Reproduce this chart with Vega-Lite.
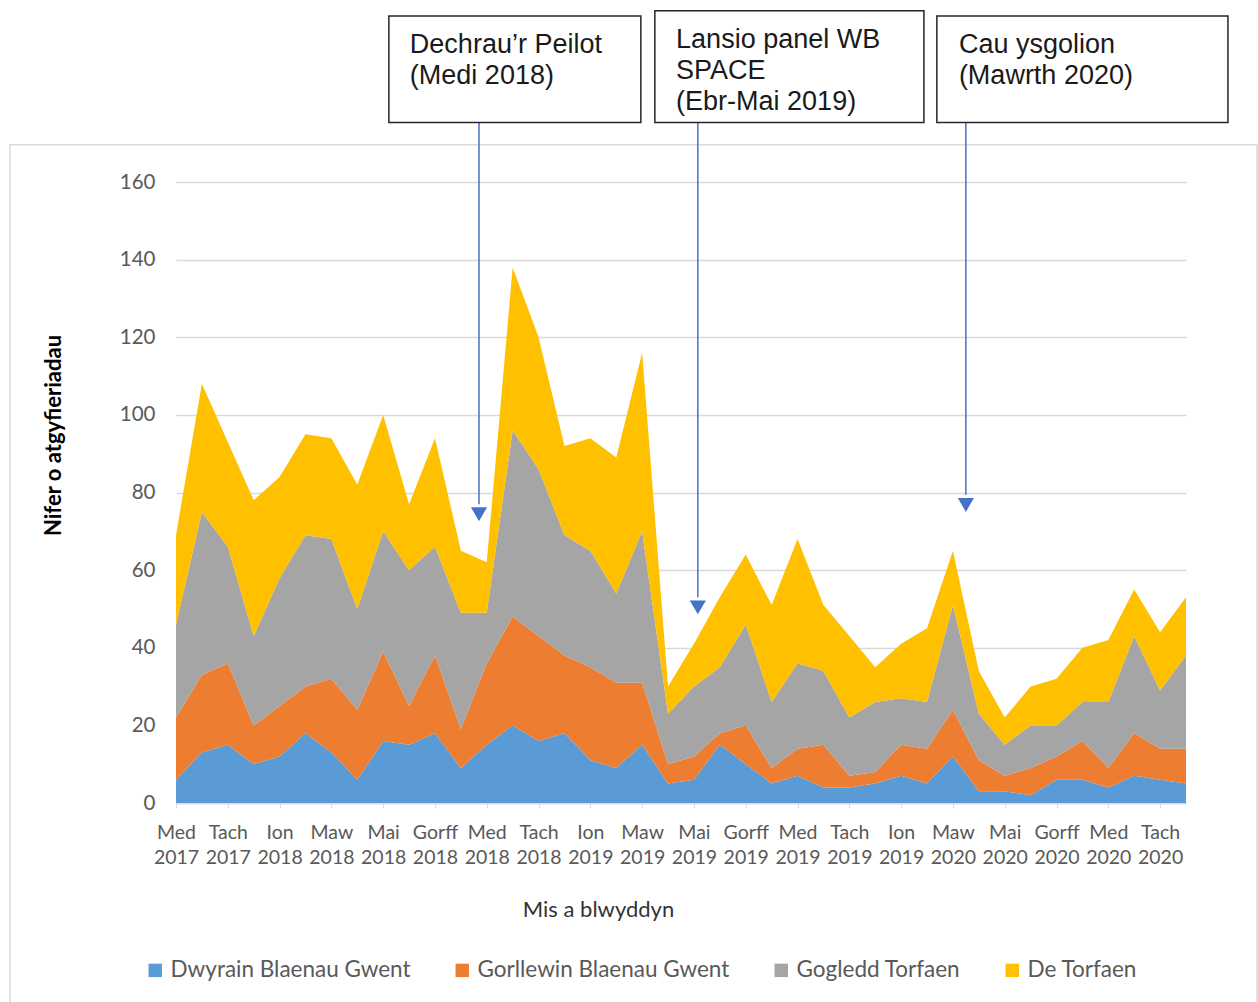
{
  "$schema": "https://vega.github.io/schema/vega-lite/v6.json",
  "width": 1010,
  "height": 621,
  "autosize": {"type": "none"},
  "padding": {"left": 176, "top": 182, "right": 72, "bottom": 199},
  "background": "white",
  "config": {"view": {"stroke": null}, "font": "Lato", "axis": {"labelFont": "Lato", "titleFont": "Lato"}, "legend": {"labelFont": "Lato"}},
  "datasets": {
    "refs": [
      {"i":0,"s":"Dwyrain Blaenau Gwent","v":6},{"i":0,"s":"Gorllewin Blaenau Gwent","v":16},{"i":0,"s":"Gogledd Torfaen","v":24},{"i":0,"s":"De Torfaen","v":23},
      {"i":1,"s":"Dwyrain Blaenau Gwent","v":13},{"i":1,"s":"Gorllewin Blaenau Gwent","v":20},{"i":1,"s":"Gogledd Torfaen","v":42},{"i":1,"s":"De Torfaen","v":33},
      {"i":2,"s":"Dwyrain Blaenau Gwent","v":15},{"i":2,"s":"Gorllewin Blaenau Gwent","v":21},{"i":2,"s":"Gogledd Torfaen","v":30},{"i":2,"s":"De Torfaen","v":27},
      {"i":3,"s":"Dwyrain Blaenau Gwent","v":10},{"i":3,"s":"Gorllewin Blaenau Gwent","v":10},{"i":3,"s":"Gogledd Torfaen","v":23},{"i":3,"s":"De Torfaen","v":35},
      {"i":4,"s":"Dwyrain Blaenau Gwent","v":12},{"i":4,"s":"Gorllewin Blaenau Gwent","v":13},{"i":4,"s":"Gogledd Torfaen","v":33},{"i":4,"s":"De Torfaen","v":26},
      {"i":5,"s":"Dwyrain Blaenau Gwent","v":18},{"i":5,"s":"Gorllewin Blaenau Gwent","v":12},{"i":5,"s":"Gogledd Torfaen","v":39},{"i":5,"s":"De Torfaen","v":26},
      {"i":6,"s":"Dwyrain Blaenau Gwent","v":13},{"i":6,"s":"Gorllewin Blaenau Gwent","v":19},{"i":6,"s":"Gogledd Torfaen","v":36},{"i":6,"s":"De Torfaen","v":26},
      {"i":7,"s":"Dwyrain Blaenau Gwent","v":6},{"i":7,"s":"Gorllewin Blaenau Gwent","v":18},{"i":7,"s":"Gogledd Torfaen","v":26},{"i":7,"s":"De Torfaen","v":32},
      {"i":8,"s":"Dwyrain Blaenau Gwent","v":16},{"i":8,"s":"Gorllewin Blaenau Gwent","v":23},{"i":8,"s":"Gogledd Torfaen","v":31},{"i":8,"s":"De Torfaen","v":30},
      {"i":9,"s":"Dwyrain Blaenau Gwent","v":15},{"i":9,"s":"Gorllewin Blaenau Gwent","v":10},{"i":9,"s":"Gogledd Torfaen","v":35},{"i":9,"s":"De Torfaen","v":17},
      {"i":10,"s":"Dwyrain Blaenau Gwent","v":18},{"i":10,"s":"Gorllewin Blaenau Gwent","v":20},{"i":10,"s":"Gogledd Torfaen","v":28},{"i":10,"s":"De Torfaen","v":28},
      {"i":11,"s":"Dwyrain Blaenau Gwent","v":9},{"i":11,"s":"Gorllewin Blaenau Gwent","v":10},{"i":11,"s":"Gogledd Torfaen","v":30},{"i":11,"s":"De Torfaen","v":16},
      {"i":12,"s":"Dwyrain Blaenau Gwent","v":15},{"i":12,"s":"Gorllewin Blaenau Gwent","v":21},{"i":12,"s":"Gogledd Torfaen","v":13},{"i":12,"s":"De Torfaen","v":13},
      {"i":13,"s":"Dwyrain Blaenau Gwent","v":20},{"i":13,"s":"Gorllewin Blaenau Gwent","v":28},{"i":13,"s":"Gogledd Torfaen","v":48},{"i":13,"s":"De Torfaen","v":42},
      {"i":14,"s":"Dwyrain Blaenau Gwent","v":16},{"i":14,"s":"Gorllewin Blaenau Gwent","v":27},{"i":14,"s":"Gogledd Torfaen","v":43},{"i":14,"s":"De Torfaen","v":34},
      {"i":15,"s":"Dwyrain Blaenau Gwent","v":18},{"i":15,"s":"Gorllewin Blaenau Gwent","v":20},{"i":15,"s":"Gogledd Torfaen","v":31},{"i":15,"s":"De Torfaen","v":23},
      {"i":16,"s":"Dwyrain Blaenau Gwent","v":11},{"i":16,"s":"Gorllewin Blaenau Gwent","v":24},{"i":16,"s":"Gogledd Torfaen","v":30},{"i":16,"s":"De Torfaen","v":29},
      {"i":17,"s":"Dwyrain Blaenau Gwent","v":9},{"i":17,"s":"Gorllewin Blaenau Gwent","v":22},{"i":17,"s":"Gogledd Torfaen","v":23},{"i":17,"s":"De Torfaen","v":35},
      {"i":18,"s":"Dwyrain Blaenau Gwent","v":15},{"i":18,"s":"Gorllewin Blaenau Gwent","v":16},{"i":18,"s":"Gogledd Torfaen","v":39},{"i":18,"s":"De Torfaen","v":46},
      {"i":19,"s":"Dwyrain Blaenau Gwent","v":5},{"i":19,"s":"Gorllewin Blaenau Gwent","v":5},{"i":19,"s":"Gogledd Torfaen","v":13},{"i":19,"s":"De Torfaen","v":7},
      {"i":20,"s":"Dwyrain Blaenau Gwent","v":6},{"i":20,"s":"Gorllewin Blaenau Gwent","v":6},{"i":20,"s":"Gogledd Torfaen","v":18},{"i":20,"s":"De Torfaen","v":11},
      {"i":21,"s":"Dwyrain Blaenau Gwent","v":15},{"i":21,"s":"Gorllewin Blaenau Gwent","v":3},{"i":21,"s":"Gogledd Torfaen","v":17},{"i":21,"s":"De Torfaen","v":18},
      {"i":22,"s":"Dwyrain Blaenau Gwent","v":10},{"i":22,"s":"Gorllewin Blaenau Gwent","v":10},{"i":22,"s":"Gogledd Torfaen","v":26},{"i":22,"s":"De Torfaen","v":18},
      {"i":23,"s":"Dwyrain Blaenau Gwent","v":5},{"i":23,"s":"Gorllewin Blaenau Gwent","v":4},{"i":23,"s":"Gogledd Torfaen","v":17},{"i":23,"s":"De Torfaen","v":25},
      {"i":24,"s":"Dwyrain Blaenau Gwent","v":7},{"i":24,"s":"Gorllewin Blaenau Gwent","v":7},{"i":24,"s":"Gogledd Torfaen","v":22},{"i":24,"s":"De Torfaen","v":32},
      {"i":25,"s":"Dwyrain Blaenau Gwent","v":4},{"i":25,"s":"Gorllewin Blaenau Gwent","v":11},{"i":25,"s":"Gogledd Torfaen","v":19},{"i":25,"s":"De Torfaen","v":17},
      {"i":26,"s":"Dwyrain Blaenau Gwent","v":4},{"i":26,"s":"Gorllewin Blaenau Gwent","v":3},{"i":26,"s":"Gogledd Torfaen","v":15},{"i":26,"s":"De Torfaen","v":21},
      {"i":27,"s":"Dwyrain Blaenau Gwent","v":5},{"i":27,"s":"Gorllewin Blaenau Gwent","v":3},{"i":27,"s":"Gogledd Torfaen","v":18},{"i":27,"s":"De Torfaen","v":9},
      {"i":28,"s":"Dwyrain Blaenau Gwent","v":7},{"i":28,"s":"Gorllewin Blaenau Gwent","v":8},{"i":28,"s":"Gogledd Torfaen","v":12},{"i":28,"s":"De Torfaen","v":14},
      {"i":29,"s":"Dwyrain Blaenau Gwent","v":5},{"i":29,"s":"Gorllewin Blaenau Gwent","v":9},{"i":29,"s":"Gogledd Torfaen","v":12},{"i":29,"s":"De Torfaen","v":19},
      {"i":30,"s":"Dwyrain Blaenau Gwent","v":12},{"i":30,"s":"Gorllewin Blaenau Gwent","v":12},{"i":30,"s":"Gogledd Torfaen","v":27},{"i":30,"s":"De Torfaen","v":14},
      {"i":31,"s":"Dwyrain Blaenau Gwent","v":3},{"i":31,"s":"Gorllewin Blaenau Gwent","v":8},{"i":31,"s":"Gogledd Torfaen","v":12},{"i":31,"s":"De Torfaen","v":11},
      {"i":32,"s":"Dwyrain Blaenau Gwent","v":3},{"i":32,"s":"Gorllewin Blaenau Gwent","v":4},{"i":32,"s":"Gogledd Torfaen","v":8},{"i":32,"s":"De Torfaen","v":7},
      {"i":33,"s":"Dwyrain Blaenau Gwent","v":2},{"i":33,"s":"Gorllewin Blaenau Gwent","v":7},{"i":33,"s":"Gogledd Torfaen","v":11},{"i":33,"s":"De Torfaen","v":10},
      {"i":34,"s":"Dwyrain Blaenau Gwent","v":6},{"i":34,"s":"Gorllewin Blaenau Gwent","v":6},{"i":34,"s":"Gogledd Torfaen","v":8},{"i":34,"s":"De Torfaen","v":12},
      {"i":35,"s":"Dwyrain Blaenau Gwent","v":6},{"i":35,"s":"Gorllewin Blaenau Gwent","v":10},{"i":35,"s":"Gogledd Torfaen","v":10},{"i":35,"s":"De Torfaen","v":14},
      {"i":36,"s":"Dwyrain Blaenau Gwent","v":4},{"i":36,"s":"Gorllewin Blaenau Gwent","v":5},{"i":36,"s":"Gogledd Torfaen","v":17},{"i":36,"s":"De Torfaen","v":16},
      {"i":37,"s":"Dwyrain Blaenau Gwent","v":7},{"i":37,"s":"Gorllewin Blaenau Gwent","v":11},{"i":37,"s":"Gogledd Torfaen","v":25},{"i":37,"s":"De Torfaen","v":12},
      {"i":38,"s":"Dwyrain Blaenau Gwent","v":6},{"i":38,"s":"Gorllewin Blaenau Gwent","v":8},{"i":38,"s":"Gogledd Torfaen","v":15},{"i":38,"s":"De Torfaen","v":15},
      {"i":39,"s":"Dwyrain Blaenau Gwent","v":5},{"i":39,"s":"Gorllewin Blaenau Gwent","v":9},{"i":39,"s":"Gogledd Torfaen","v":24},{"i":39,"s":"De Torfaen","v":15}
    ],
    "frame": [{"x1": -6.41, "x2": 41.74, "y1": 169.6, "y2": -53.4}],
    "arrows": [
      {"ax": 11.7, "top": 175.3, "bot": 77.0, "tip": 74.4},
      {"ax": 20.15, "top": 175.3, "bot": 53.0, "tip": 50.4},
      {"ax": 30.5, "top": 175.3, "bot": 79.4, "tip": 76.8}
    ],
    "boxes": [
      {"x1": 8.22, "x2": 17.95, "y1": 175.3, "y2": 202.8, "t": "Dechrau’r Peilot\n(Medi 2018)", "tx": 9.03, "ty": 193.3},
      {"x1": 18.49, "x2": 28.88, "y1": 175.3, "y2": 204.1, "t": "Lansio panel WB\nSPACE\n(Ebr-Mai 2019)", "tx": 19.31, "ty": 194.6},
      {"x1": 29.38, "x2": 40.62, "y1": 175.3, "y2": 202.8, "t": "Cau ysgolion\n(Mawrth 2020)", "tx": 30.23, "ty": 193.3}
    ]
  },
  "layer": [
    {
      "data": {"name": "frame"},
      "mark": {"type": "rect", "filled": false, "stroke": "#d9d9d9", "strokeWidth": 1.5},
      "encoding": {
        "x": {"field": "x1", "type": "quantitative", "scale": {"domain": [0, 39], "nice": false, "zero": false}},
        "x2": {"field": "x2"},
        "y": {"field": "y1", "type": "quantitative", "scale": {"domain": [0, 160], "nice": false}},
        "y2": {"field": "y2"}
      }
    },
    {
      "data": {"name": "refs"},
      "transform": [{"calculate": "indexof(['Dwyrain Blaenau Gwent','Gorllewin Blaenau Gwent','Gogledd Torfaen','De Torfaen'], datum.s)", "as": "k"}],
      "mark": {"type": "area", "interpolate": "linear"},
      "encoding": {
        "x": {
          "field": "i", "type": "quantitative",
          "scale": {"domain": [0, 39], "nice": false, "zero": false},
          "axis": {
            "title": "Mis a blwyddyn",
            "values": [0,1,2,3,4,5,6,7,8,9,10,11,12,13,14,15,16,17,18,19,20,21,22,23,24,25,26,27,28,29,30,31,32,33,34,35,36,37,38,39],
            "labelExpr": "datum.value % 2 == 0 ? split(['Med 2017','Tach 2017','Ion 2018','Maw 2018','Mai 2018','Gorff 2018','Med 2018','Tach 2018','Ion 2019','Maw 2019','Mai 2019','Gorff 2019','Med 2019','Tach 2019','Ion 2019','Maw 2020','Mai 2020','Gorff 2020','Med 2020','Tach 2020'][datum.value / 2], ' ') : ''",
            "grid": false,
            "domainColor": "#d9d9d9", "domainWidth": 1.5,
            "tickColor": "#d9d9d9", "tickSize": 5, "tickWidth": 1,
            "labelFontSize": 19.5, "labelColor": "#595959", "labelPadding": 15, "labelLineHeight": 25,
            "labelBound": false, "labelOverlap": false, "labelFlush": false,
            "titleFontSize": 22, "titleColor": "#333333", "titleFontWeight": "normal",
            "titleX": 422, "titleY": 106, "titleBaseline": "middle", "titleAlign": "center", "titleAnchor": null
          }
        },
        "y": {
          "field": "v", "type": "quantitative", "stack": "zero",
          "scale": {"domain": [0, 160], "nice": false},
          "axis": {
            "title": "Nifer o atgyfieriadau",
            "values": [0,20,40,60,80,100,120,140,160],
            "domain": false, "ticks": false,
            "gridColor": "#d9d9d9", "gridWidth": 1.5,
            "labelFontSize": 20.5, "labelColor": "#595959", "labelPadding": 21,
            "titleFontSize": 22, "titleFontWeight": "bold", "titleColor": "#000000",
            "titleX": -123, "titleY": 253, "titleBaseline": "middle", "titleAlign": "center", "titleAngle": -90, "titleAnchor": null
          }
        },
        "color": {
          "field": "s", "type": "nominal",
          "scale": {"domain": ["Dwyrain Blaenau Gwent","Gorllewin Blaenau Gwent","Gogledd Torfaen","De Torfaen"], "range": ["#5B9BD5","#ED7D31","#A5A5A5","#FFC000"]},
          "legend": {
            "title": null, "orient": "none", "legendX": -32, "legendY": 777, "direction": "horizontal",
            "symbolType": "square", "symbolSize": 180, "symbolStrokeWidth": 0,
            "labelFontSize": 22.5, "labelColor": "#595959", "labelOffset": 4, "columnPadding": 40, "padding": 0, "labelLimit": 400
          }
        },
        "order": {"field": "k", "type": "quantitative"}
      }
    },
    {
      "data": {"name": "arrows"},
      "mark": {"type": "rule", "color": "#4472C4", "strokeWidth": 1.5},
      "encoding": {
        "x": {"field": "ax", "type": "quantitative", "scale": {"domain": [0, 39], "nice": false, "zero": false}},
        "y": {"field": "top", "type": "quantitative", "scale": {"domain": [0, 160], "nice": false}},
        "y2": {"field": "bot"}
      }
    },
    {
      "data": {"name": "arrows"},
      "mark": {"type": "point", "shape": "triangle-down", "filled": true, "color": "#4472C4", "size": 260, "opacity": 1},
      "encoding": {
        "x": {"field": "ax", "type": "quantitative", "scale": {"domain": [0, 39], "nice": false, "zero": false}},
        "y": {"field": "tip", "type": "quantitative", "scale": {"domain": [0, 160], "nice": false}}
      }
    },
    {
      "data": {"name": "boxes"},
      "mark": {"type": "rect", "fill": "white", "stroke": "#262626", "strokeWidth": 1.5},
      "encoding": {
        "x": {"field": "x1", "type": "quantitative", "scale": {"domain": [0, 39], "nice": false, "zero": false}},
        "x2": {"field": "x2"},
        "y": {"field": "y1", "type": "quantitative", "scale": {"domain": [0, 160], "nice": false}},
        "y2": {"field": "y2"}
      }
    },
    {
      "data": {"name": "boxes"},
      "mark": {"type": "text", "align": "left", "baseline": "alphabetic", "font": "Liberation Sans", "fontSize": 27, "lineHeight": 31, "lineBreak": "\n", "color": "#1a1a1a"},
      "encoding": {
        "x": {"field": "tx", "type": "quantitative", "scale": {"domain": [0, 39], "nice": false, "zero": false}},
        "y": {"field": "ty", "type": "quantitative", "scale": {"domain": [0, 160], "nice": false}},
        "text": {"field": "t"}
      }
    }
  ]
}
